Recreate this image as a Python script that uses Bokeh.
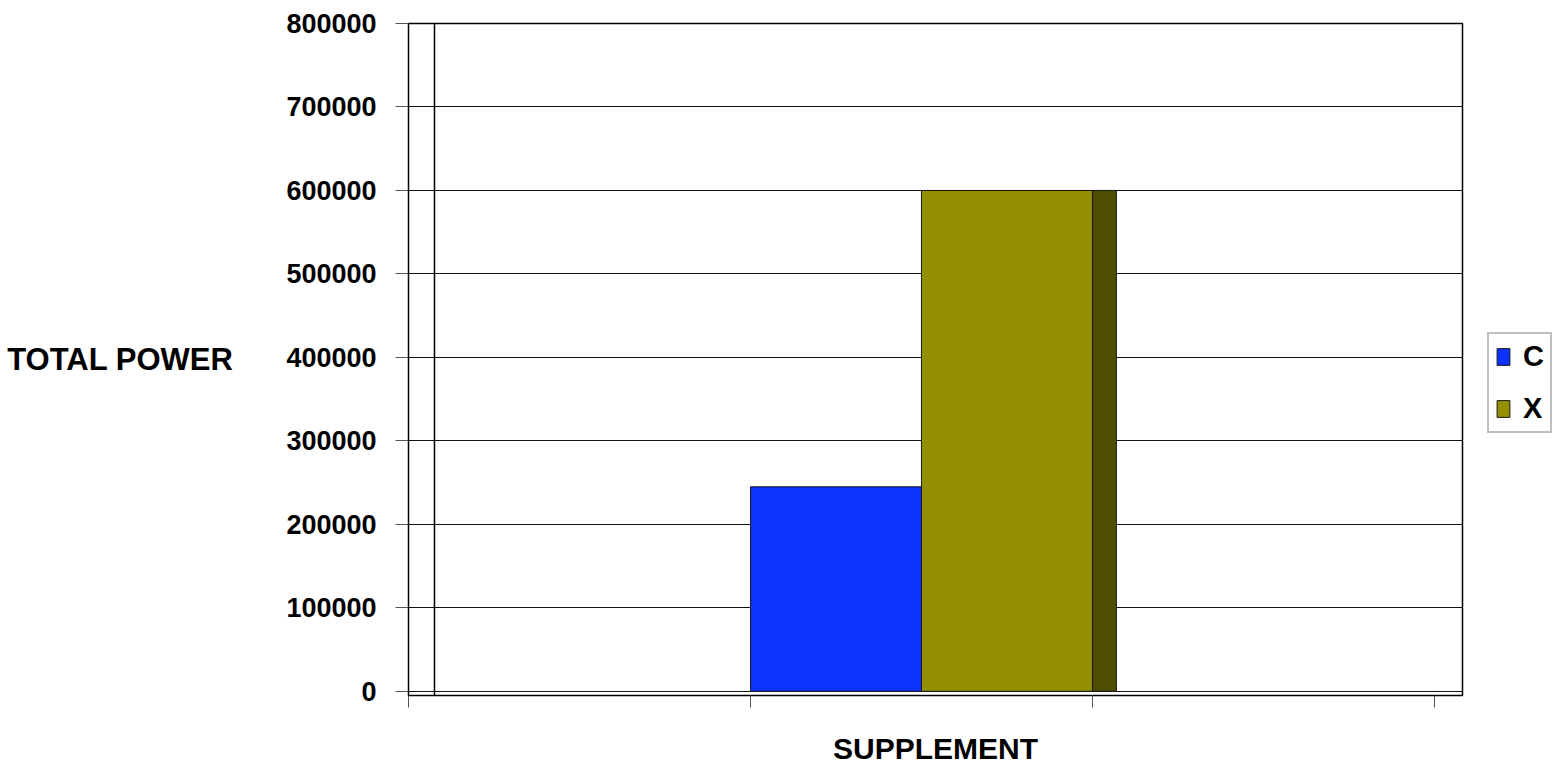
from bokeh.plotting import figure
from bokeh.layouts import row
from bokeh.models import (Range1d, FixedTicker, BasicTickFormatter, Legend,
                          LegendItem, Span)
from bokeh.embed import file_html
from bokeh.resources import INLINE

# ---- data ----
series = ["C", "X"]
values = [245000, 600000]
colors = ["#0D31FF", "#948F00"]
side_color = "#4F4E00"
slot_index = 1            # bars sit in the middle of three category slots
n_slots = 3
y_ticks = [0, 100000, 200000, 300000, 400000, 500000, 600000, 700000, 800000]

FONT = "Liberation Sans"
depth = 0.07              # 3D side depth in category units
bar_w = 0.5

p = figure(width=1464, height=768, output_backend="svg", toolbar_location=None,
           x_range=Range1d(0, n_slots + 0.082), y_range=Range1d(-5000, 800000),
           min_border_left=408, min_border_right=2, min_border_top=23,
           min_border_bottom=73)
p.background_fill_color = "white"
p.border_fill_color = "white"
p.outline_line_color = "black"
p.outline_line_width = 1.5

# bars
lefts = [slot_index + i * bar_w for i in range(len(series))]
rights = [l + bar_w for l in lefts]
for i, s in enumerate(series):
    p.quad(left=[lefts[i]], right=[rights[i]], bottom=[0], top=[values[i]],
           fill_color=colors[i], line_color="#1a1a1a", line_width=1)

# 3D side face of the last bar
p.quad(left=[rights[-1]], right=[rights[-1] + depth], bottom=[0], top=[values[-1]],
       fill_color=side_color, line_color="#1a1a1a", line_width=1)

# back wall left edge
p.add_layout(Span(location=0.076, dimension="height", line_color="black",
                  line_width=1.5))

# axes
yax = p.yaxis[0]
yax.ticker = FixedTicker(ticks=y_ticks)
yax.formatter = BasicTickFormatter(use_scientific=False)
yax.major_label_text_font = FONT
yax.major_label_text_font_style = "bold"
yax.major_label_text_font_size = "27px"
yax.major_label_text_color = "black"
yax.major_label_standoff = 19
yax.major_tick_out = 13
yax.major_tick_in = 0
yax.minor_tick_out = 0
yax.minor_tick_in = 0
yax.major_tick_line_color = "#555555"
yax.axis_line_color = "black"
yax.axis_label = "TOTAL POWER"
yax.axis_label_orientation = "horizontal"
yax.axis_label_text_font = FONT
yax.axis_label_text_font_style = "bold"
yax.axis_label_text_font_size = "31px"
yax.axis_label_text_color = "black"
yax.axis_label_standoff = 50

xax = p.xaxis[0]
xax.ticker = FixedTicker(ticks=list(range(n_slots + 1)))
xax.major_label_overrides = {i: "" for i in range(n_slots + 1)}
xax.major_label_standoff = 0
xax.major_tick_out = 12
xax.major_tick_in = 0
xax.minor_tick_out = 0
xax.minor_tick_in = 0
xax.major_tick_line_color = "#555555"
xax.axis_line_color = "black"
xax.axis_label = "SUPPLEMENT"
xax.axis_label_text_font = FONT
xax.axis_label_text_font_style = "bold"
xax.axis_label_text_font_size = "30px"
xax.axis_label_text_color = "black"
xax.axis_label_standoff = 24

p.xgrid.visible = False
p.ygrid.ticker = FixedTicker(ticks=y_ticks)
p.ygrid.grid_line_color = "#111111"
p.ygrid.grid_line_width = 1

# ---- legend panel (separate narrow figure at the right) ----
pl = figure(width=91, height=768, output_backend="svg", toolbar_location=None,
            x_range=Range1d(0, 1), y_range=Range1d(0, 1), min_border=0)
pl.axis.visible = False
pl.grid.visible = False
pl.outline_line_color = None
pl.background_fill_color = "white"
pl.border_fill_color = "white"
leg_renderers = []
for i, s in enumerate(series):
    # swatch renderers placed outside the visible range; used only by the legend
    r = pl.quad(left=[5], right=[6], bottom=[5], top=[6],
                fill_color=colors[i], line_color="#1a1a1a", line_width=1)
    leg_renderers.append(r)

legend = Legend(items=[LegendItem(label=s, renderers=[r]) for s, r in zip(series, leg_renderers)],
                location=(23, 262), margin=0)
legend.label_text_font = FONT
legend.label_text_font_style = "bold"
legend.label_text_font_size = "29px"
legend.label_text_color = "black"
legend.glyph_width = 16
legend.glyph_height = 21
legend.label_standoff = 12
legend.padding = 6
legend.spacing = 19
legend.border_line_color = "#7f7f7f"
legend.border_line_width = 2
legend.background_fill_color = "white"
legend.background_fill_alpha = 1
pl.add_layout(legend)

layout = row(p, pl, spacing=0)
open("out.html", "w").write(file_html(layout, INLINE))
